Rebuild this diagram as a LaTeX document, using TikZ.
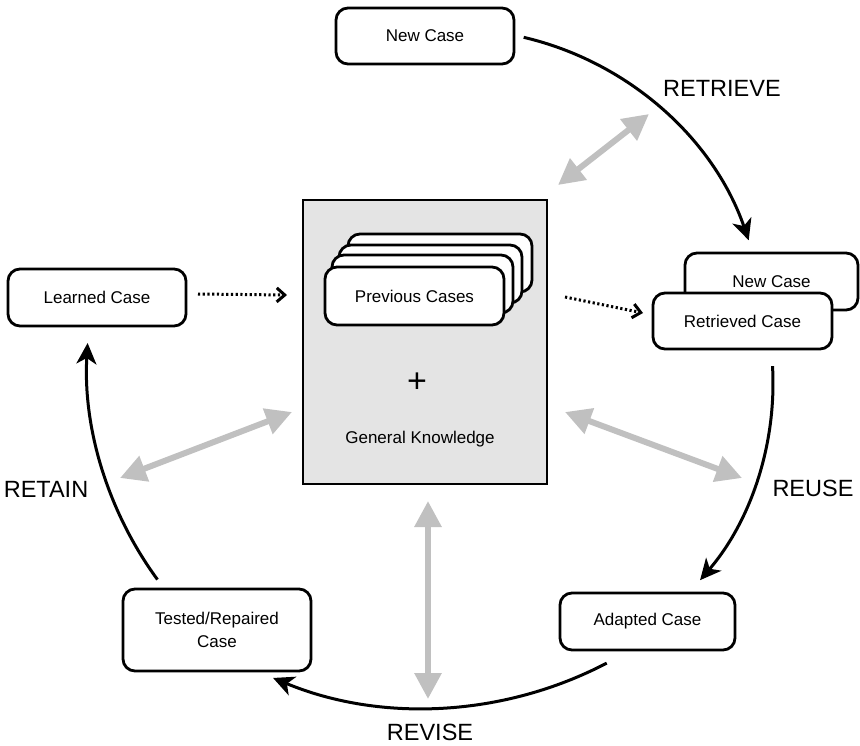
\documentclass[tikz,border=0pt]{standalone}
\usepackage{fontspec}
\setmainfont{Liberation Sans}
\usetikzlibrary{arrows.meta,calc}
\definecolor{kbgray}{HTML}{C0C0C0}
\definecolor{kbfill}{HTML}{E4E4E4}
\begin{document}
\begin{tikzpicture}[x=1pt,y=-1pt,
  casebox/.style={draw=black, line width=2.8pt, rounded corners=12pt, fill=white,
    inner sep=0pt, font=\fontsize{17}{23}\selectfont, align=center},
  cyc/.style={draw=black, line width=3pt,
    -{Stealth[length=21pt,width=20pt,inset=6pt]}},
  kbarrow/.style={draw=kbgray, line width=6pt,
    {Triangle[length=26pt,width=26pt]}-{Triangle[length=26pt,width=26pt]}},
  flow/.style={draw=black, line width=3pt, dash pattern=on 2.2pt off 2.5pt,
    -{Straight Barb[length=8pt,width=14pt]}},
  phase/.style={font=\fontsize{23.5}{28}\selectfont, inner sep=0pt}
]
\useasboundingbox (0,0) rectangle (860,745);

% knowledge base
\node[draw=black, line width=2.2pt, fill=kbfill, minimum width=244pt,
      minimum height=284pt] (kb) at (425,342) {};
\node[casebox, minimum width=184pt, minimum height=58pt] (pc4) at (440,263) {};
\node[casebox, minimum width=183pt, minimum height=58pt] (pc3) at (430.5,274) {};
\node[casebox, minimum width=181pt, minimum height=58pt] (pc2) at (422.5,284) {};
\node[casebox, minimum width=179pt, minimum height=58pt] (pc1) at (414.5,296) {Previous Cases};
\node[font=\fontsize{34}{34}\selectfont, inner sep=0pt] (plus) at (417,383) {+};
\node[font=\fontsize{17}{23}\selectfont, inner sep=0pt] (gk) at (420,439) {General Knowledge};

% cases around the cycle
\node[casebox, minimum width=178pt, minimum height=56pt] (newcase) at (425,36) {New Case};
\node[casebox, minimum width=173pt, minimum height=57pt] (probe) at (771.5,281.5) {New Case};
\node[casebox, minimum width=179pt, minimum height=56pt] (retrieved) at (742.5,321) {Retrieved Case};
\node[casebox, minimum width=175pt, minimum height=57pt] (adapted) at (647.5,621.5) {Adapted Case};
\node[casebox, minimum width=188pt, minimum height=82pt] (tested) at (217,630) {Tested/Repaired\\Case};
\node[casebox, minimum width=178pt, minimum height=57pt] (learned) at (97,297.5) {Learned Case};

% phase labels
\node[phase] (lretrieve) at (722,88) {RETRIEVE};
\node[phase] (lreuse) at (813,488) {REUSE};
\node[phase] (lrevise) at (430,732) {REVISE};
\node[phase] (lretain) at (46,489.5) {RETAIN};

% cycle arcs
\coordinate (a1) at ($(452,343)+(-76.8:314)$);
\coordinate (a2) at ($(470,383)+(-3.2:303)$);
\coordinate (a3) at ($(424,313.5)+(62.4:394.5)$);
\coordinate (a4) at ($(452,364)+(143.8:365)$);
\draw[cyc] (a1) arc[start angle=-76.8, end angle=-19.1, radius=314];
\draw[cyc] (a2) arc[start angle=-3.2, end angle=40.6, radius=303];
\draw[cyc] (a3) arc[start angle=62.4, end angle=112.5, radius=394.5];
\draw[cyc] (a4) arc[start angle=143.8, end angle=183.3, radius=365];

% exchanges with the knowledge base
\coordinate (g1a) at (558,185);  \coordinate (g1b) at (649,114);
\coordinate (g2a) at (565,412);  \coordinate (g2b) at (742,478);
\coordinate (g3a) at (120,478);  \coordinate (g3b) at (292,412);
\coordinate (g4a) at (428,501);  \coordinate (g4b) at (428,699);
\draw[kbarrow] (g1a) -- (g1b);
\draw[kbarrow] (g2a) -- (g2b);
\draw[kbarrow] (g3a) -- (g3b);
\draw[kbarrow] (g4a) -- (g4b);

% dotted case transfers
\coordinate (d1a) at (198,294);  \coordinate (d1b) at (287,295);
\coordinate (d2a) at (565,297);  \coordinate (d2b) at (643,313);
\draw[flow] (d1a) -- (d1b);
\draw[flow] (d2a) -- (d2b);
\end{tikzpicture}
\end{document}
